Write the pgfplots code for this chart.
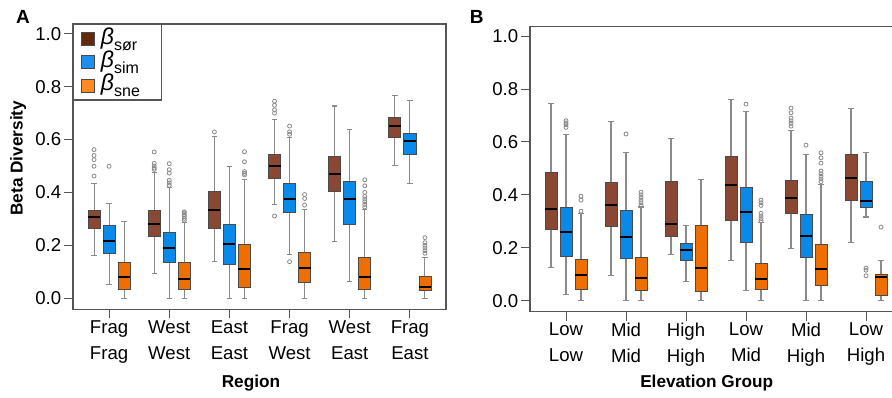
\documentclass[border=0pt]{standalone}
\usepackage{pgfplots}
\pgfplotsset{compat=1.18}
\usepgfplotslibrary{statistics}
\usepackage{fontspec}
\setmainfont{Liberation Sans}
\definecolor{cbrown}{HTML}{8A4732}
\definecolor{cblue}{HTML}{0A8AE8}
\definecolor{corange}{HTML}{EE6E00}
\definecolor{lbrown}{HTML}{63290C}
\definecolor{lblue}{HTML}{1E8EEE}
\definecolor{lorange}{HTML}{FF8A24}
\definecolor{framecol}{HTML}{555555}
\definecolor{whiskcol}{HTML}{8A8A8A}
\definecolor{edgecol}{HTML}{4A4A4A}

\newcommand{\bp}[8]{\addplot[forget plot, draw=edgecol, line width=0.4pt, fill=#1,
  mark=o, mark size=1.0pt, mark options={draw=whiskcol, fill=none, line width=0.4pt},
  boxplot prepared={draw direction=y, draw position=#2, lower whisker=#3, lower quartile=#4,
  median=#5, upper quartile=#6, upper whisker=#7}] coordinates {#8};}
\newcommand{\legb}[1]{\makebox[25.3pt][l]{\fontsize{11.5}{11.5}\selectfont\textit{β}\raisebox{-0.5ex}{\fontsize{8}{8}\selectfont #1}}}

\pgfplotsset{
  myaxis/.style={
    scale only axis, height=142.65pt,
    ymin=-0.042, ymax=1.037, xmin=-0.6,
    ytick={0,0.2,0.4,0.6,0.8,1},
    xtick={0,1,2,3,4,5},
    tick align=outside, tick pos=left,
    major tick length=4.5pt,
    tick style={draw=framecol, line width=0.5pt},
    axis line style={draw=framecol, line width=0.6pt},
    /pgf/number format/assume math mode=true,
    yticklabel style={/pgf/number format/fixed, /pgf/number format/fixed zerofill, /pgf/number format/precision=1, inner sep=1.2pt},
    ticklabel style={font=\fontsize{9.3}{13}\selectfont},
    xticklabel style={align=center, inner sep=1pt},
    label style={font=\fontsize{8.6}{10}\selectfont\bfseries},
    boxplot/draw direction=y,
    boxplot/box extend=0.2,
    boxplot/whisker extend=0.09,
    boxplot/every whisker/.style={draw=whiskcol, line width=0.55pt},
    boxplot/every median/.style={draw=black, line width=1pt},
    boxplot/every box/.style={draw=edgecol, line width=0.4pt},
    clip=false,
  }
}

\begin{document}
\begin{tikzpicture}
\path[use as bounding box] (0,0) rectangle (446pt,198.5pt);

% ---------------- Panel A ----------------
\begin{axis}[myaxis, at={(36.5pt,43.85pt)}, anchor=south west,
  width=186.5pt, xmax=5.6,
  xticklabels={{Frag\\Frag},{West\\West},{East\\East},{Frag\\West},{West\\East},{Frag\\East}},
  xlabel={Region}, ylabel={Beta Diversity},
  xlabel style={at={(axis description cs:0.477,-0.273)}, anchor=base},
  ylabel style={at={(axis description cs:-0.147,0.53)}, anchor=center},
  legend cell align=left,
  legend style={at={(rel axis cs:0,1)}, anchor=north west, draw=framecol, line width=0.6pt,
    inner xsep=3.6pt, inner ysep=1.3pt, row sep=0pt,
    nodes={inner ysep=0pt, inner xsep=1.2pt, text height=8.4pt, text depth=3.3pt}},
  legend image code/.code={\draw[#1] (0pt,-3.3pt) rectangle (6.7pt,3.4pt); \path (8.5pt,0pt);},
]
\addlegendimage{fill=lbrown, draw=edgecol, line width=0.4pt}
\addlegendentry{\legb{sør}}
\addlegendimage{fill=lblue, draw=edgecol, line width=0.4pt}
\addlegendentry{\legb{sim}}
\addlegendimage{fill=lorange, draw=edgecol, line width=0.4pt}
\addlegendentry{\legb{sne}}
% Frag-Frag
\bp{cbrown}{-0.25}{0.161}{0.263}{0.307}{0.332}{0.433}{(0,0.462)(0,0.499)(0,0.524)(0,0.540)(0,0.562)}
\bp{cblue}{0}{0.052}{0.170}{0.216}{0.275}{0.358}{(0,0.499)}
\bp{corange}{0.25}{0}{0.034}{0.082}{0.136}{0.289}{}
% West-West
\bp{cbrown}{0.75}{0.094}{0.233}{0.279}{0.331}{0.477}{(0,0.487)(0,0.492)(0,0.500)(0,0.510)(0,0.553)}
\bp{cblue}{1}{0}{0.135}{0.190}{0.248}{0.418}{(0,0.427)(0,0.436)(0,0.446)(0,0.473)(0,0.486)(0,0.509)}
\bp{corange}{1.25}{0}{0.033}{0.073}{0.135}{0.286}{(0,0.295)(0,0.302)(0,0.310)(0,0.316)(0,0.322)(0,0.327)}
% East-East
\bp{cbrown}{1.75}{0.140}{0.264}{0.332}{0.405}{0.610}{(0,0.629)}
\bp{cblue}{2}{0}{0.127}{0.204}{0.279}{0.499}{}
\bp{corange}{2.25}{0}{0.042}{0.111}{0.205}{0.450}{(0,0.466)(0,0.472)(0,0.479)(0,0.516)(0,0.554)}
% Frag-West
\bp{cbrown}{2.75}{0.355}{0.454}{0.499}{0.544}{0.676}{(0,0.311)(0,0.700)(0,0.712)(0,0.730)(0,0.745)}
\bp{cblue}{3}{0.165}{0.323}{0.374}{0.434}{0.608}{(0,0.138)(0,0.620)(0,0.629)(0,0.651)}
\bp{corange}{3.25}{0}{0.060}{0.113}{0.174}{0.336}{(0,0.352)(0,0.377)(0,0.392)}
% West-East
\bp{cbrown}{3.75}{0.216}{0.403}{0.468}{0.537}{0.727}{}
\bp{cblue}{4}{0.063}{0.280}{0.374}{0.443}{0.638}{}
\bp{corange}{4.25}{0}{0.035}{0.082}{0.155}{0.336}{(0,0.345)(0,0.355)(0,0.365)(0,0.375)(0,0.385)(0,0.400)(0,0.425)(0,0.448)}
% Frag-East
\bp{cbrown}{4.75}{0.503}{0.610}{0.651}{0.684}{0.765}{}
\bp{cblue}{5}{0.435}{0.543}{0.594}{0.625}{0.749}{}
\bp{corange}{5.25}{0}{0.029}{0.044}{0.082}{0.155}{(0,0.170)(0,0.180)(0,0.190)(0,0.200)(0,0.210)(0,0.229)}
\end{axis}

% ---------------- Panel B ----------------
\begin{axis}[myaxis, at={(265pt,42.65pt)}, anchor=south west,
  width=181pt, xmax=5.433,
  axis line style={draw=none},
  xticklabels={{Low\\Low},{Mid\\Mid},{High\\High},{Low\\Mid},{Mid\\High},{Low\\High}},
  xlabel={Elevation Group},
  xlabel style={at={(axis description cs:0.488,-0.265)}, anchor=base},
]
\draw[framecol, line width=0.6pt] (rel axis cs:1,1) -- (rel axis cs:0,1) -- (rel axis cs:0,0) -- (rel axis cs:1,0);
% Low-Low
\bp{cbrown}{-0.25}{0.125}{0.271}{0.348}{0.486}{0.747}{}
\bp{cblue}{0}{0.024}{0.167}{0.259}{0.354}{0.629}{(0,0.655)(0,0.665)(0,0.672)(0,0.680)}
\bp{corange}{0.25}{0}{0.043}{0.095}{0.157}{0.330}{(0,0.338)(0,0.380)(0,0.395)}
% Mid-Mid
\bp{cbrown}{0.75}{0.095}{0.280}{0.363}{0.447}{0.679}{}
\bp{cblue}{1}{0}{0.161}{0.240}{0.341}{0.559}{(0,0.630)}
\bp{corange}{1.25}{0}{0.037}{0.085}{0.165}{0.354}{(0,0.360)(0,0.370)(0,0.380)(0,0.390)(0,0.400)(0,0.410)}
% High-High
\bp{cbrown}{1.75}{0.176}{0.243}{0.290}{0.452}{0.612}{}
\bp{cblue}{2}{0.071}{0.151}{0.191}{0.215}{0.284}{}
\bp{corange}{2.25}{0}{0.034}{0.124}{0.284}{0.457}{}
% Low-Mid
\bp{cbrown}{2.75}{0.151}{0.304}{0.439}{0.544}{0.759}{}
\bp{cblue}{3}{0.037}{0.220}{0.334}{0.427}{0.714}{(0,0.743)}
\bp{corange}{3.25}{0}{0.041}{0.080}{0.142}{0.295}{(0,0.302)(0,0.310)(0,0.320)(0,0.330)(0,0.360)(0,0.370)(0,0.380)}
% Mid-High
\bp{cbrown}{3.75}{0.197}{0.329}{0.389}{0.455}{0.645}{(0,0.660)(0,0.670)(0,0.680)(0,0.690)(0,0.710)(0,0.728)}
\bp{cblue}{4}{0}{0.163}{0.243}{0.325}{0.551}{(0,0.588)}
\bp{corange}{4.25}{0}{0.057}{0.120}{0.213}{0.440}{(0,0.450)(0,0.460)(0,0.470)(0,0.480)(0,0.490)(0,0.520)(0,0.540)(0,0.559)}
% Low-High
\bp{cbrown}{4.75}{0.220}{0.378}{0.462}{0.553}{0.728}{}
\bp{cblue}{5}{0.316}{0.351}{0.378}{0.451}{0.559}{(0,0.094)(0,0.115)(0,0.123)}
\bp{corange}{5.25}{0}{0.019}{0.091}{0.100}{0.153}{(0,0.278)}
\end{axis}

\node[anchor=base, font=\fontsize{9.5}{9.5}\selectfont\bfseries] at (11.5pt,186.5pt) {A};
\node[anchor=base, font=\fontsize{9.5}{9.5}\selectfont\bfseries] at (238.35pt,186.85pt) {B};
\end{tikzpicture}
\end{document}
